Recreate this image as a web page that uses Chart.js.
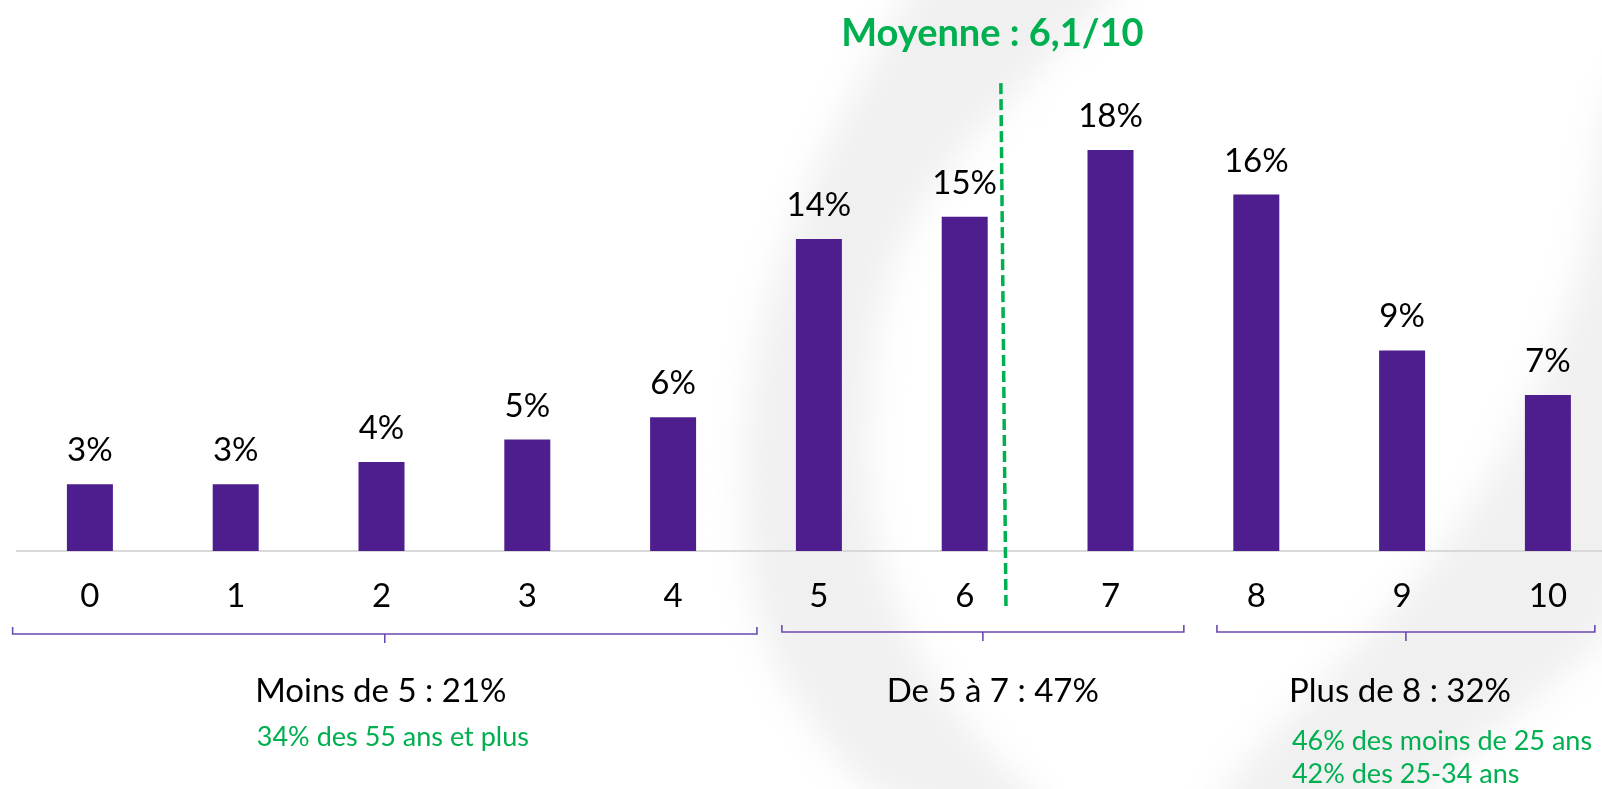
<!DOCTYPE html>
<html><head><meta charset="utf-8">
<script src="https://cdn.jsdelivr.net/npm/chart.js@4.4.1/dist/chart.umd.min.js"></script>
<style>html,body{margin:0;padding:0;background:#fff;overflow:hidden}#wrap{width:1602px;height:789px;position:relative}</style>
</head><body><div id="wrap"><canvas id="c"></canvas></div>
<script>
// ---- data ----
const categories = ['0','1','2','3','4','5','6','7','8','9','10'];
const values = [3,3,4,5,6,14,15,18,16,9,7];
const valueLabels = ['3%','3%','4%','5%','6%','14%','15%','18%','16%','9%','7%'];
const titleText = 'Moyenne : 6,1/10';
const meanValue = 6.1;
const groupLabels = ['Moins de 5 : 21%','De 5 à 7 : 47%','Plus de 8 : 32%'];
const groupFirst = [0,5,8];
const groupLast = [4,7,10];
const groupNotes = [['34% des 55 ans et plus'], [], ['46% des moins de 25 ans','42% des 25-34 ans']];

// ---- styles ----
const S = {
  purple:'#4f1e8e', green:'#00b050', bracket:'#6a4ab2', axis:'#d9d9d9', text:'#000',
  font:'Lato, "Open Sans", sans-serif',
  titleAt: 6.19, titleBaseline: 46,
  meanTop: 0.148, meanBottom: 0.183,
  brackets:[
    {l:-0.53, r:0.575, dy:83, labelDx:-0.027, note:{align:'center', at:2.078, dy:[195]}},
    {l:-0.254, r:0.503, dy:81, labelDx:0.068, note:null},
    {l:-0.27, r:0.322, dy:81, labelDx:-0.04, note:{align:'left', at:8.244, dy:[199,232]}}
  ]
};

function smoothPath(ctx, pts){
  ctx.beginPath();
  ctx.moveTo((pts[0][0]+pts[pts.length-1][0])/2,(pts[0][1]+pts[pts.length-1][1])/2);
  for(let i=0;i<pts.length;i++){
    const p=pts[i], q=pts[(i+1)%pts.length];
    ctx.quadraticCurveTo(p[0],p[1],(p[0]+q[0])/2,(p[1]+q[1])/2);
  }
  ctx.closePath();
}

const deco = {
  id:'deco',
  beforeDraw(chart){
    const ctx = chart.ctx;
    ctx.save();
    ctx.filter = 'blur(18px)';
    ctx.fillStyle = '#f0f0f0';
    smoothPath(ctx, [[940,-60],[860,80],[800,200],[758,330],[742,460],[745,560],[768,655],[818,735],[885,810],[1080,840],[980,745],[912,650],[872,540],[866,420],[880,290],[930,185],[1015,95],[1170,-60]]);
    ctx.fill();
    smoothPath(ctx, [[1650,40],[1605,100],[1595,200],[1572,310],[1508,450],[1440,555],[1350,655],[1250,755],[1190,840],[1380,840],[1460,760],[1545,690],[1650,600]]);
    ctx.fill();
    ctx.restore();
  },
  afterDatasetsDraw(chart){
    const ctx = chart.ctx, xs = chart.scales.x, ys = chart.scales.y, ca = chart.chartArea;
    ctx.save();
    // value labels
    ctx.fillStyle = S.text; ctx.textAlign='center'; ctx.textBaseline='alphabetic';
    ctx.font = '33px ' + S.font;
    chart.getDatasetMeta(0).data.forEach((bar,i)=>{ ctx.fillText(valueLabels[i], bar.x, bar.y - 23); });
    // mean line
    ctx.strokeStyle = S.green; ctx.lineWidth = 3.5; ctx.setLineDash([11,5]);
    ctx.beginPath();
    ctx.moveTo(xs.getPixelForValue(meanValue + S.meanTop), ys.getPixelForValue(21));
    ctx.lineTo(xs.getPixelForValue(meanValue + S.meanBottom), ys.getPixelForValue(-2.5));
    ctx.stroke();
    ctx.setLineDash([]);
    // title
    ctx.fillStyle = S.green; ctx.font = 'bold 38px ' + S.font; ctx.textAlign='center';
    ctx.fillText(titleText, xs.getPixelForValue(S.titleAt), S.titleBaseline);
    // brackets
    groupLabels.forEach((lab,g)=>{
      const b = S.brackets[g];
      const vl = groupFirst[g] + b.l, vr = groupLast[g] + b.r;
      const xl = xs.getPixelForValue(vl), xr = Math.min(xs.getPixelForValue(vr), chart.width-2);
      const xc = xs.getPixelForValue((vl+vr)/2);
      const y = ca.bottom + b.dy;
      ctx.strokeStyle = S.bracket; ctx.lineWidth = 1.6;
      ctx.beginPath();
      ctx.moveTo(xl, y-7); ctx.lineTo(xl, y); ctx.lineTo(xr, y); ctx.lineTo(xr, y-7);
      ctx.moveTo(xc, y); ctx.lineTo(xc, y+9);
      ctx.stroke();
      ctx.fillStyle = S.text; ctx.font = '33px ' + S.font; ctx.textAlign='center';
      ctx.fillText(lab, xs.getPixelForValue((vl+vr)/2 + b.labelDx), ca.bottom + 151);
      if (b.note){
        ctx.fillStyle = S.green; ctx.font = '27px ' + S.font; ctx.textAlign = b.note.align;
        groupNotes[g].forEach((t,k)=>{ ctx.fillText(t, xs.getPixelForValue(b.note.at), ca.bottom + b.note.dy[k]); });
      }
    });
    ctx.restore();
  }
};

new Chart(document.getElementById('c'), {
  type:'bar',
  data:{ datasets:[{
    data: categories.map((c,i)=>({x:Number(c), y:values[i]})),
    backgroundColor:S.purple, borderWidth:0, barPercentage:0.3155, categoryPercentage:1
  }]},
  options:{
    responsive:true, maintainAspectRatio:false, animation:false,
    layout:{padding:{left:17,right:0,top:80,bottom:172}},
    plugins:{legend:{display:false}, tooltip:{enabled:false}, title:{display:false}},
    scales:{
      x:{
        type:'linear', min:-0.5, max:10.371, offset:false,
        grid:{display:false, drawTicks:false},
        border:{display:true, color:S.axis, width:2},
        afterBuildTicks: s => { s.ticks = categories.map(c=>({value:Number(c)})); },
        afterFit: s => { s.height = 66; },
        ticks:{autoSkip:false, maxRotation:0, padding:26, color:S.text,
          font:{family:S.font, size:33},
          callback:(v,i)=>categories[i]}
      },
      y:{display:false, min:0, max:21.14}
    }
  },
  plugins:[deco]
});
</script>
</body></html>
